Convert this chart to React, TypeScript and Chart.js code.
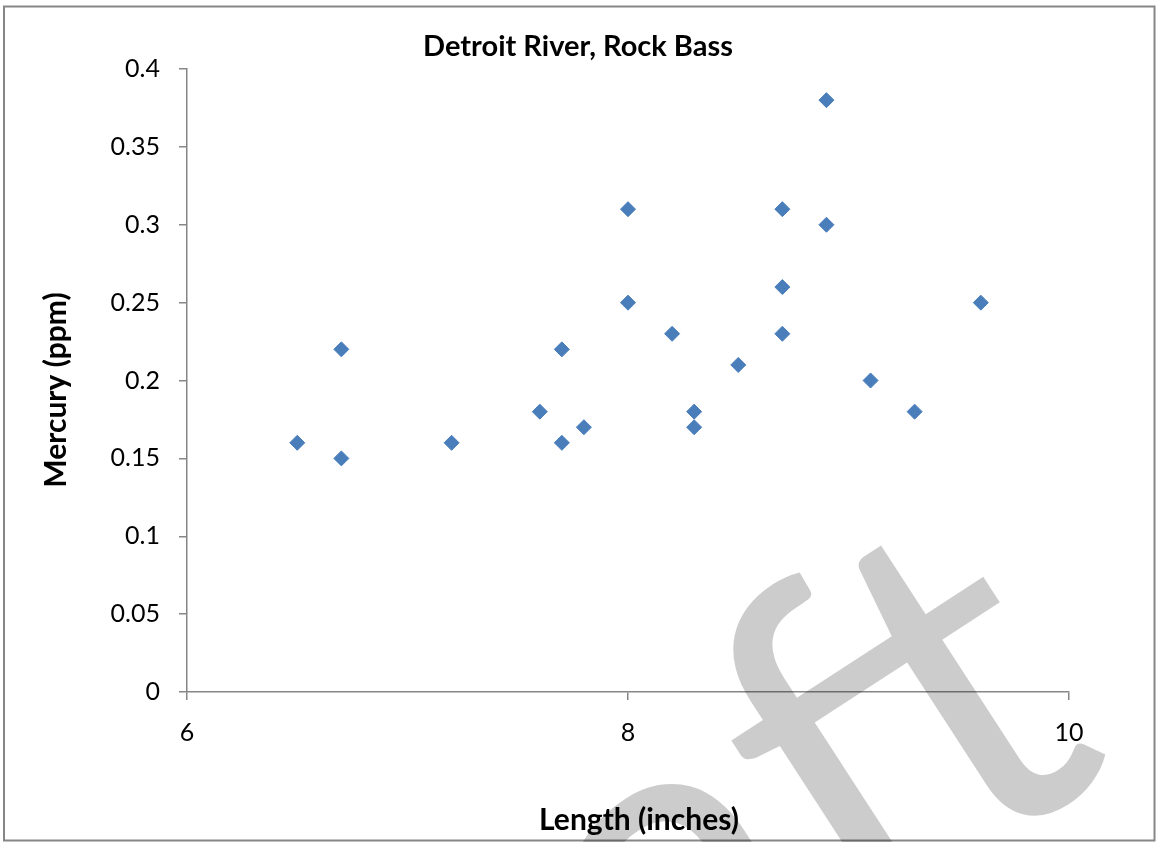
import React, { useEffect, useRef } from "react";
import { Chart, registerables } from "chart.js";

Chart.register(...registerables);

const chartTitle = "Detroit River, Rock Bass";
const xTitle = "Length (inches)";
const yTitle = "Mercury (ppm)";
const watermark = "Draft";

const lengths = [6.5, 6.7, 6.7, 7.2, 7.6, 7.7, 7.7, 7.8, 8.0, 8.0, 8.2, 8.3, 8.3, 8.5, 8.7, 8.7, 8.7, 8.9, 8.9, 9.1, 9.3, 9.6];
const mercury = [0.16, 0.22, 0.15, 0.16, 0.18, 0.22, 0.16, 0.17, 0.31, 0.25, 0.23, 0.18, 0.17, 0.21, 0.31, 0.26, 0.23, 0.38, 0.30, 0.20, 0.18, 0.25];

const xMin = 6, xMax = 10, xStep = 2;
const yMin = 0, yMax = 0.4, yStep = 0.05;

const FONT = "Lato, 'Open Sans', sans-serif";
const AXIS = "#868686";

const framePlugin = {
  id: "frame",
  beforeDraw(chart: any) {
    const ctx = chart.ctx;
    ctx.save();
    ctx.fillStyle = "#ffffff";
    ctx.fillRect(0, 0, chart.width, chart.height);
    ctx.strokeStyle = AXIS;
    ctx.lineWidth = 2;
    ctx.strokeRect(4, 6.5, 1150.5, 834);
    ctx.restore();
  },
  afterDraw(chart: any) {
    const ctx = chart.ctx;
    // axis titles (placed as in the reference, slightly off the plot centre)
    ctx.save();
    ctx.fillStyle = "#000";
    ctx.font = `bold 30px ${FONT}`;
    ctx.textAlign = "center";
    ctx.textBaseline = "middle";
    ctx.fillText(xTitle, 639, 820);
    ctx.translate(56, 390);
    ctx.rotate(-Math.PI / 2);
    ctx.fillText(yTitle, 0, 0);
    ctx.restore();
    // watermark
    ctx.save();
    ctx.fillStyle = "rgba(0,0,0,0.2)";
    ctx.font = `400 470px ${FONT}`;
    ctx.textAlign = "right";
    ctx.textBaseline = "alphabetic";
    ctx.translate(1119, 767);
    ctx.rotate((-33 * Math.PI) / 180);
    ctx.fillText(watermark, 0, 0);
    ctx.restore();
  },
};

export default function App() {
  const ref = useRef<HTMLCanvasElement>(null);
  useEffect(() => {
    document.body.style.margin = "0";
    const canvas = ref.current!;
    const points = lengths.map((x, i) => ({ x, y: mercury[i] }));
    const chart = new Chart(canvas, {
      type: "scatter",
      data: {
        datasets: [
          {
            label: "Mercury",
            data: points,
            pointStyle: "rectRot",
            pointRadius: 7.5,
            pointHoverRadius: 7.5,
            backgroundColor: "#4a7ebb",
            borderColor: "#4a7ebb",
            borderWidth: 1,
          },
        ],
      },
      options: {
        animation: false,
        responsive: false,
        devicePixelRatio: 1,
        layout: { padding: 0 },
        plugins: {
          legend: { display: false },
          tooltip: { enabled: false },
          title: {
            display: true,
            text: chartTitle,
            color: "#000",
            font: { family: FONT, size: 29, weight: "bold", lineHeight: 1.2 },
            padding: { top: 29, bottom: 5.2 },
          },
        },
        scales: {
          x: {
            type: "linear",
            min: xMin,
            max: xMax,
            ticks: {
              stepSize: xStep,
              color: "#000",
              font: { family: FONT, size: 25 },
              padding: 18,
              maxRotation: 0,
              callback: (v: any) => String(v),
            },
            grid: { drawOnChartArea: false, color: AXIS, tickLength: 8, lineWidth: 1.5 },
            border: { color: AXIS, width: 1.5 },
            title: { display: false, text: xTitle },
            afterFit: (s: any) => {
              s.height = 150;
            },
          },
          y: {
            type: "linear",
            min: yMin,
            max: yMax,
            ticks: {
              stepSize: yStep,
              color: "#000",
              font: { family: FONT, size: 25 },
              padding: 19,
              callback: (v: any) => String(+Number(v).toFixed(2)),
            },
            grid: { drawOnChartArea: false, color: AXIS, tickLength: 8, lineWidth: 1.5 },
            border: { color: AXIS, width: 1.5 },
            title: { display: false, text: yTitle },
            afterFit: (s: any) => {
              s.width = 187;
            },
          },
          yRightSpace: {
            type: "linear",
            position: "right",
            display: true,
            ticks: { display: false },
            grid: { display: false, drawTicks: false },
            border: { display: false },
            afterFit: (s: any) => {
              s.width = 87;
            },
          },
        },
      },
      plugins: [framePlugin],
    });
    return () => chart.destroy();
  }, []);
  return <canvas ref={ref} width={1156} height={842} style={{ display: "block" }} />;
}
